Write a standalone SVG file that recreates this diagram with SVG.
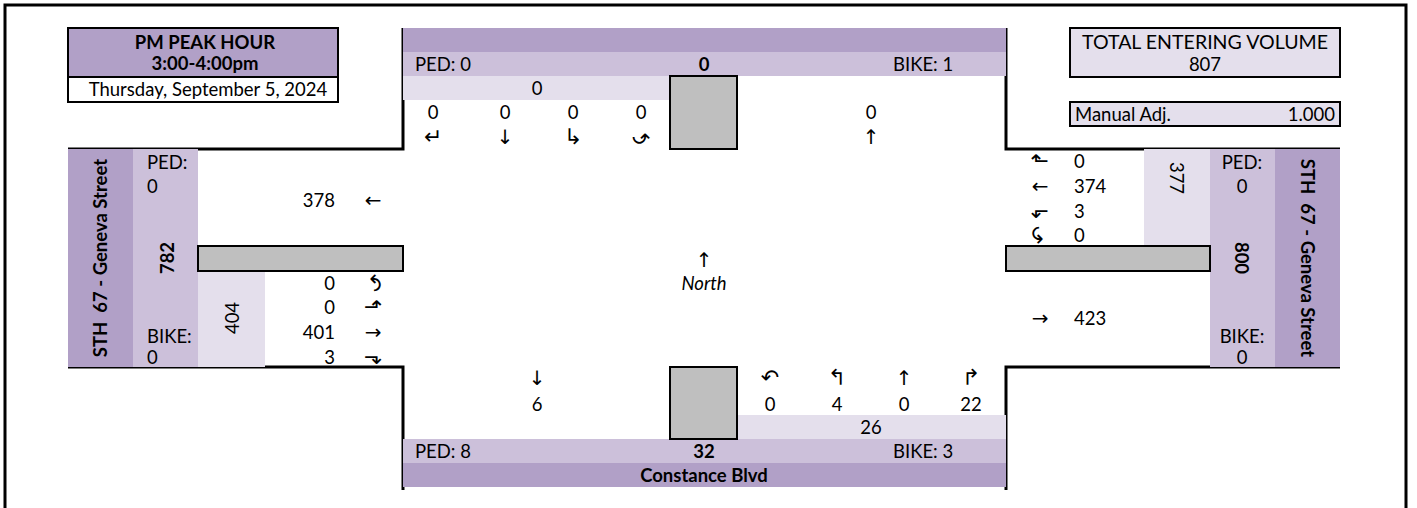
<svg xmlns="http://www.w3.org/2000/svg" width="1417" height="508" viewBox="0 0 1417 508">
<style>
text{font-family:Lato,"Liberation Sans",sans-serif;font-size:18.5px;fill:#000;white-space:pre}
.b{font-weight:bold}
.i{font-style:italic}
.c{text-anchor:middle}
.r{text-anchor:end}
.a{font-family:"DejaVu Sans",sans-serif;font-size:20px;text-anchor:middle}
.h{font-family:"DejaVu Sans",sans-serif;font-size:22px;text-anchor:middle}
.p1{fill:#B1A0C7}
.p2{fill:#CCC0DA}
.p3{fill:#E4DFEC}
.g{fill:#BFBFBF;stroke:#000;stroke-width:2}
.bx{stroke:#000;stroke-width:2}
.ln{fill:none;stroke:#000;stroke-width:3}
</style>
<rect width="1417" height="508" fill="#fff"/>
<g id="frame">
<path class="ln" d="M5,512 V5 H1406 V512" stroke-width="4"/>
<path class="ln" d="M68,149 H403 V28"/>
<path class="ln" d="M1006,28 V149 H1340"/>
<path class="ln" d="M68,367 H403 V490"/>
<path class="ln" d="M1006,490 V367 H1340"/>
</g>
<g id="connectors"></g>
<g id="peak-hour">
<rect class="p1 bx" x="68" y="28" width="270" height="49"/>
<rect class="bx" fill="#fff" x="68" y="77" width="270" height="25"/>
<text class="b c" x="205" y="49">PM PEAK HOUR</text>
<text class="b c" x="205" y="70">3:00-4:00pm</text>
<text class="c" x="208" y="96">Thursday, September 5, 2024</text>
</g>
<g id="total-volume">
<rect class="p3 bx" x="1070" y="28" width="270" height="49"/>
<text class="c" x="1205" y="49" textLength="246" lengthAdjust="spacingAndGlyphs">TOTAL ENTERING VOLUME</text>
<text class="c" x="1205" y="71">807</text>
<rect class="p3 bx" x="1070" y="102" width="270" height="24"/>
<text x="1075" y="121">Manual Adj.</text>
<text class="r" x="1335" y="121">1.000</text>
</g>
<g id="north-approach">
<rect class="p1" x="403" y="28" width="603" height="24"/>
<rect class="p2" x="403" y="52" width="603" height="24"/>
<rect class="p3" x="403" y="76" width="267" height="24"/>
<rect class="g" x="670" y="76" width="67" height="73"/>
<text x="415" y="71">PED: 0</text>
<text class="b c" x="704" y="71">0</text>
<text x="893" y="71">BIKE: 1</text>
<text class="c" x="537" y="95">0</text>
<text class="c" x="433" y="119">0</text>
<text class="c" x="505" y="119">0</text>
<text class="c" x="573" y="119">0</text>
<text class="c" x="641" y="119">0</text>
<text class="c" x="871" y="119">0</text>
<text class="h" transform="translate(433,137)" y="7">↵</text>
<text class="a" transform="translate(505,137)" y="7">↓</text>
<text class="h" transform="translate(573,137)" y="7">↳</text>
<text class="h" transform="translate(641,136) rotate(180)" y="7">↶</text>
<text class="a" transform="translate(871,137)" y="7">↑</text>
</g>
<g id="south-approach">
<rect class="p3" x="737" y="415" width="269" height="24"/>
<rect class="p2" x="403" y="439" width="603" height="24"/>
<rect class="p1" x="403" y="463" width="603" height="24"/>
<rect class="g" x="670" y="367" width="67" height="72"/>
<text class="a" transform="translate(537,378)" y="7">↓</text>
<text class="h" transform="translate(770,378)" y="7">↶</text>
<text class="h" transform="translate(837,378)" y="7">↰</text>
<text class="a" transform="translate(904,378)" y="7">↑</text>
<text class="h" transform="translate(971,378)" y="7">↱</text>
<text class="c" x="537" y="411">6</text>
<text class="c" x="770" y="411">0</text>
<text class="c" x="837" y="411">4</text>
<text class="c" x="904" y="411">0</text>
<text class="c" x="971" y="411">22</text>
<text class="c" x="871" y="434">26</text>
<text x="415" y="458">PED: 8</text>
<text class="b c" x="704" y="458">32</text>
<text x="893" y="458">BIKE: 3</text>
<text class="b c" x="704" y="482">Constance Blvd</text>
</g>
<g id="west-approach">
<rect class="p1" x="68" y="149" width="65" height="218"/>
<rect class="p2" x="133" y="149" width="65" height="218"/>
<rect class="p3" x="198" y="270" width="67" height="97"/>
<rect class="g" x="198" y="246" width="205" height="25"/>
<text class="b c" transform="translate(100,258) rotate(-90)" y="7">STH  67 - Geneva Street</text>
<text x="147" y="169">PED:</text>
<text x="147" y="193">0</text>
<text class="b c" transform="translate(167,258) rotate(-90)" y="7">782</text>
<text x="147" y="343">BIKE:</text>
<text x="147" y="364">0</text>
<text class="c" transform="translate(232,318) rotate(-90)" y="7">404</text>
<text class="r" x="335" y="207">378</text>
<text class="a" transform="translate(373,200)" y="7">←</text>
<text class="r" x="335" y="290">0</text>
<text class="r" x="335" y="314">0</text>
<text class="r" x="335" y="339">401</text>
<text class="r" x="335" y="364">3</text>
<text class="h" transform="translate(373,283) rotate(90)" y="7">↶</text>
<text class="h" transform="translate(373,307)" y="7">⬏</text>
<text class="a" transform="translate(373,332)" y="7">→</text>
<text class="h" transform="translate(373,357)" y="7">⬎</text>
</g>
<g id="east-approach">
<rect class="p3" x="1144" y="149" width="66" height="97"/>
<rect class="p2" x="1210" y="149" width="65" height="218"/>
<rect class="p1" x="1275" y="149" width="65" height="218"/>
<rect class="g" x="1006" y="246" width="204" height="25"/>
<text class="h" transform="translate(1040,161)" y="7">⬑</text>
<text class="a" transform="translate(1040,186)" y="7">←</text>
<text class="h" transform="translate(1040,211)" y="7">⬐</text>
<text class="h" transform="translate(1040,235) rotate(-90)" y="7">↶</text>
<text x="1074" y="168">0</text>
<text x="1074" y="193">374</text>
<text x="1074" y="218">3</text>
<text x="1074" y="242">0</text>
<text class="a" transform="translate(1040,318)" y="7">→</text>
<text x="1074" y="325">423</text>
<text class="c" transform="translate(1177,178) rotate(90)" y="7">377</text>
<text class="c" x="1242" y="169">PED:</text>
<text class="c" x="1242" y="193">0</text>
<text class="b c" transform="translate(1242,258) rotate(90)" y="7">800</text>
<text class="c" x="1242" y="343">BIKE:</text>
<text class="c" x="1242" y="364">0</text>
<text class="b c" transform="translate(1308,258) rotate(90)" y="7">STH  67 - Geneva Street</text>
</g>
<g id="north-arrow">
<text class="a" transform="translate(704,258)" y="9" font-size="28">↑</text>
<text class="i c" x="704" y="290">North</text>
</g>
</svg>
